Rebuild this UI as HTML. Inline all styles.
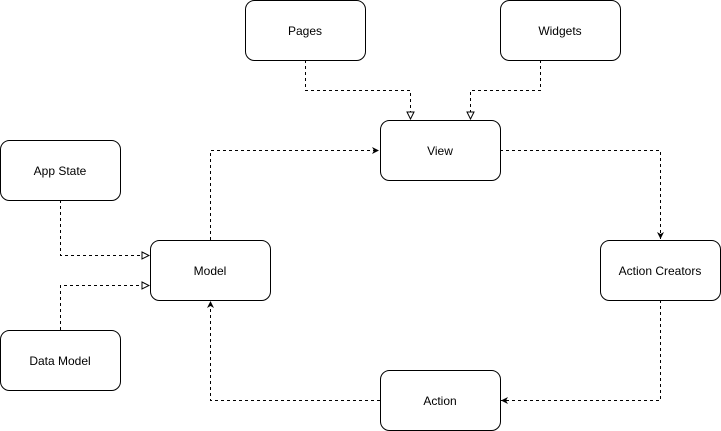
<!DOCTYPE html>
<html><head><meta charset="utf-8"><style>
html,body{margin:0;padding:0;background:#fff;}
svg{display:block;}
text{font-family:"Liberation Sans",sans-serif;font-size:12px;fill:#000;}
</style></head><body>
<svg width="721" height="431" viewBox="0 0 721 431" xmlns="http://www.w3.org/2000/svg">
<defs>
<marker id="f" markerWidth="8" markerHeight="8" refX="7" refY="4" orient="auto" markerUnits="userSpaceOnUse">
<path d="M0,0.5 L7,4 L0,7.5 L2,4 Z" fill="#000"/></marker>
<marker id="h" markerWidth="9" markerHeight="9" refX="8" refY="4.5" orient="auto" markerUnits="userSpaceOnUse">
<path d="M1,1 L8,4.5 L1,8 Z" fill="#fff" stroke="#000" stroke-width="1"/></marker>
</defs>
<g fill="none" stroke="#000" stroke-width="1" stroke-dasharray="3,3">
<path d="M305.5,60 V90.5 H410.5 V119" marker-end="url(#h)"/>
<path d="M540.5,60 V90.5 H470.5 V119" marker-end="url(#h)"/>
<path d="M210.5,240 V150.5 H379" marker-end="url(#f)"/>
<path d="M500,150.5 H660.5 V239" marker-end="url(#f)"/>
<path d="M660.5,300 V400.5 H501" marker-end="url(#f)"/>
<path d="M380,400.5 H210.5 V301" marker-end="url(#f)"/>
<path d="M60.5,200 V255.5 H149" marker-end="url(#h)"/>
<path d="M60.5,330 V285.5 H149" marker-end="url(#h)"/>
</g>
<g fill="#fff" stroke="#000" stroke-width="1">
<rect x="245.5" y="0.5" width="120" height="60" rx="9"/>
<rect x="500.5" y="0.5" width="120" height="60" rx="9"/>
<rect x="380.5" y="120.5" width="120" height="60" rx="9"/>
<rect x="0.5" y="140.5" width="120" height="60" rx="9"/>
<rect x="150.5" y="240.5" width="120" height="60" rx="9"/>
<rect x="600.5" y="240.5" width="120" height="60" rx="9"/>
<rect x="0.5" y="330.5" width="120" height="60" rx="9"/>
<rect x="380.5" y="370.5" width="120" height="60" rx="9"/>
</g>
<g text-anchor="middle">
<text x="305" y="35">Pages</text>
<text x="560" y="35">Widgets</text>
<text x="440" y="155">View</text>
<text x="60" y="175">App State</text>
<text x="210" y="275">Model</text>
<text x="660" y="275">Action Creators</text>
<text x="60" y="365">Data Model</text>
<text x="440" y="405">Action</text>
</g>
</svg>
</body></html>
